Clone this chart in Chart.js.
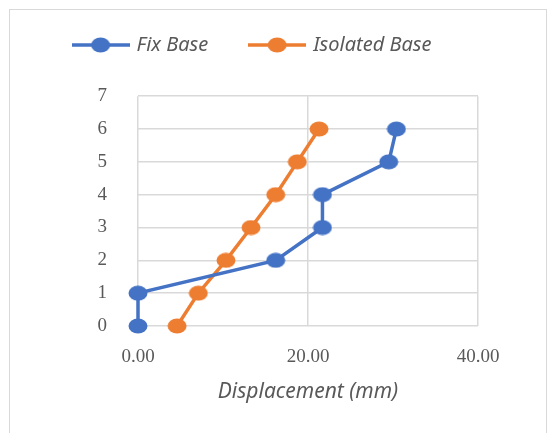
<!DOCTYPE html>
<html>
<head>
<meta charset="utf-8">
<script src="https://cdn.jsdelivr.net/npm/chart.js@4.4.0/dist/chart.umd.min.js"></script>
<style>
  html, body { margin: 0; padding: 0; background: #fff; }
  #wrap { position: relative; width: 550px; height: 433px; }
  #frame { position: absolute; left: 9px; top: 9px; width: 538px; height: 430px; border: 1px solid #d9d9d9; box-sizing: border-box; }
  canvas { position: absolute; left: 0; top: 0; }
</style>
</head>
<body>
<div id="wrap">
  <div id="frame"></div>
  <canvas id="myChart" width="550" height="433"></canvas>
</div>
<script>
// storey level (y) and displacement in mm (x)
const levels = [0, 1, 2, 3, 4, 5, 6];
const fixBase = [0.0, 0.0, 16.2, 21.7, 21.7, 29.5, 30.4];
const isolatedBase = [4.6, 7.1, 10.35, 13.3, 16.2, 18.75, 21.3];
const xTicks = [0, 20, 40];

const blue = '#4472C4';
const orange = '#ED7D31';
const grey = '#595959';

// excel-ish oval marker
function marker(color) {
  const c = document.createElement('canvas');
  c.width = 20; c.height = 16;
  const g = c.getContext('2d');
  g.fillStyle = color;
  g.beginPath(); g.ellipse(10, 8, 9.5, 7.5, 0, 0, Math.PI * 2); g.fill();
  return c;
}

function legendIcon(color) {
  const c = document.createElement('canvas');
  c.width = 58; c.height = 18;
  const g = c.getContext('2d');
  g.strokeStyle = color;
  g.lineWidth = 3.5;
  g.beginPath(); g.moveTo(0, 9); g.lineTo(58, 9); g.stroke();
  g.drawImage(marker(color), 19, 1);
  return c;
}

const toPoints = (xs) => xs.map((v, i) => ({ x: v, y: levels[i] }));

const ctx = document.getElementById('myChart');
new Chart(ctx, {
  type: 'scatter',
  data: {
    datasets: [{
      label: 'Fix Base',
      data: toPoints(fixBase),
      showLine: true,
      clip: false,
      borderColor: blue,
      backgroundColor: blue,
      borderWidth: 3.5,
      pointStyle: marker(blue),
      pointRadius: 9
    }, {
      label: 'Isolated Base',
      data: toPoints(isolatedBase),
      showLine: true,
      clip: false,
      borderColor: orange,
      backgroundColor: orange,
      borderWidth: 3.5,
      pointStyle: marker(orange),
      pointRadius: 9
    }]
  },
  options: {
    responsive: false,
    animation: false,
    layout: { padding: { left: 28, right: 72, top: -8, bottom: 24 } },
    plugins: {
      tooltip: { enabled: false },
      legend: {
        position: 'top',
        weight: 3000,
        labels: {
          usePointStyle: true,
          pointStyleWidth: 52,
          padding: 43,
          color: grey,
          font: { family: 'Noto Sans', style: 'italic', size: 20 },
          generateLabels: (chart) => {
            const items = Chart.defaults.plugins.legend.labels.generateLabels(chart);
            items.forEach((it, i) => { it.pointStyle = legendIcon(i === 0 ? blue : orange); });
            return items;
          }
        }
      },
      // empty title used only as a spacer under the legend
      title: {
        display: true,
        text: '',
        font: { size: 1 },
        padding: { top: 0, bottom: 30 }
      }
    },
    scales: {
      x: {
        type: 'linear',
        min: 0,
        max: 40,
        afterBuildTicks: (s) => { s.ticks = xTicks.map(v => ({ value: v })); },
        afterFit: (s) => { s.height = 83; },
        grid: { color: '#d9d9d9', lineWidth: 1.5, drawTicks: false },
        border: { display: false },
        ticks: {
          padding: 20,
          color: grey,
          font: { family: 'Liberation Serif', size: 19 },
          callback: (v) => v.toFixed(2)
        },
        title: {
          display: true,
          text: 'Displacement (mm)',
          color: grey,
          font: { family: 'Noto Sans', style: 'italic', size: 21 },
          padding: { top: 6 }
        }
      },
      y: {
        min: 0,
        max: 7,
        afterFit: (s) => { s.width = 110; },
        grid: { color: '#d9d9d9', lineWidth: 1.5, drawTicks: false },
        border: { display: false },
        ticks: {
          stepSize: 1,
          padding: 31,
          color: grey,
          font: { family: 'Liberation Serif', size: 19 }
        }
      }
    }
  }
});
</script>
</body>
</html>
